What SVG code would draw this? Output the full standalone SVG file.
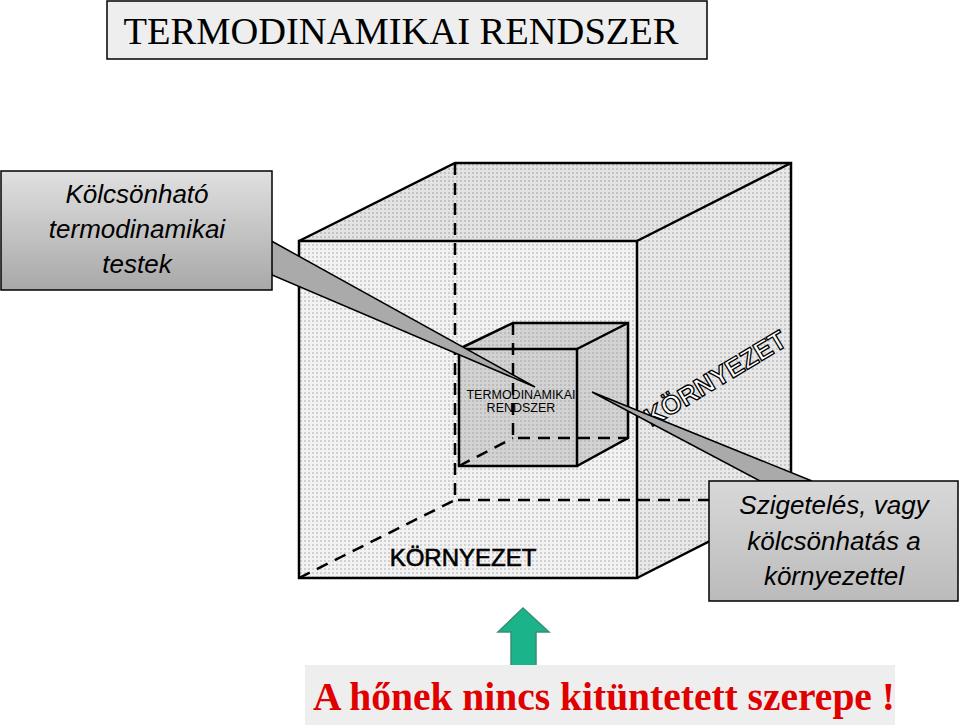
<svg xmlns="http://www.w3.org/2000/svg" width="960" height="725" viewBox="0 0 960 725">
<defs>
<pattern id="dots" width="4" height="4" patternUnits="userSpaceOnUse"><rect width="4" height="4" fill="#f2f2f2"/><rect width="2" height="2" fill="#d0d0d0"/></pattern>
<linearGradient id="g1" x1="0" y1="0" x2="0" y2="1"><stop offset="0" stop-color="#e0e0e0"/><stop offset="1" stop-color="#a8a8a8"/></linearGradient>
<linearGradient id="g2" x1="0" y1="0" x2="0" y2="1"><stop offset="0" stop-color="#d8d8d8"/><stop offset="1" stop-color="#bbbbbb"/></linearGradient>
<style>
.e{fill:none;stroke:#000;stroke-width:2.5}
.d{fill:none;stroke:#000;stroke-width:2.5;stroke-dasharray:12 8}
.s{font-family:"Liberation Sans",Arial,sans-serif}
.t{font-family:"Liberation Serif","Times New Roman",serif}
</style>
</defs>
<rect width="960" height="725" fill="#fff"/>
<g id="title"><rect x="107" y="1" width="600" height="58" fill="#eeeeee" stroke="#000" stroke-width="1.5"/>
<text x="401" y="44" class="t" font-size="38.5" text-anchor="middle">TERMODINAMIKAI RENDSZER</text></g>
<g id="bigcube">
<polygon points="299,241 455,163 791,163 791,500 637,578 299,578" fill="url(#dots)"/>
<polygon points="299,241 455,163 791,163 637,241" fill="#000" opacity="0.06"/>
<polygon points="637,241 791,163 791,500 637,578" fill="#000" opacity="0.04"/>
<polyline class="d" points="455,163 455,500 791,500"/><line class="d" x1="299" y1="578" x2="455" y2="500"/>
<rect class="e" x="299" y="241" width="338" height="337"/>
<polyline class="e" points="299,241 455,163 791,163 791,500 637,578"/><line class="e" x1="637" y1="241" x2="791" y2="163"/>
<text x="463" y="566" class="s" font-size="24" text-anchor="middle" stroke="#000" stroke-width="0.6">KÖRNYEZET</text>
<text transform="translate(720,386) rotate(-31)" class="s" font-size="26" font-weight="bold" text-anchor="middle" fill="#fff" stroke="#000" stroke-width="1.3">KÖRNYEZET</text>
</g>
<g id="innercube">
<polygon points="459,349 513,323 628,323 628,438 577,466 459,466" fill="#999" opacity="0.35"/>
<polyline class="d" points="513,323 513,438 628,438"/><line class="d" x1="459" y1="466" x2="513" y2="438"/>
<rect class="e" x="459" y="349" width="118" height="117"/>
<polyline class="e" points="459,349 513,323 628,323 628,438 577,466"/><line class="e" x1="577" y1="349" x2="628" y2="323"/>
<text x="521" y="399" class="s" font-size="12.5" text-anchor="middle">TERMODINAMIKAI</text>
<text x="521" y="412" class="s" font-size="12.5" text-anchor="middle">RENDSZER</text>
</g>
<g id="connectors">
<polygon points="266,238 272,275 535,387" fill="#aaa" stroke="#000" stroke-width="1.5"/>
<polygon points="592,392 760,481 812,481" fill="#aaa" stroke="#000" stroke-width="1.5"/>
<polygon points="523,608 549,632 536,632 536,672 511,672 511,632 498,632" fill="#1ab38a" stroke="#3a8f78" stroke-width="1.5"/>
</g>
<g id="callout1"><rect x="1" y="171" width="271" height="119" fill="url(#g1)" stroke="#000" stroke-width="1.5"/>
<text class="s" font-size="26" font-style="italic" text-anchor="middle"><tspan x="137" y="203">Kölcsönható</tspan><tspan x="137" y="238">termodinamikai</tspan><tspan x="137" y="273">testek</tspan></text></g>
<g id="callout2"><rect x="709" y="481" width="249" height="120" fill="url(#g2)" stroke="#000" stroke-width="1.5"/>
<text class="s" font-size="26" font-style="italic" text-anchor="middle"><tspan x="834" y="514">Szigetelés, vagy</tspan><tspan x="834" y="550">kölcsönhatás a</tspan><tspan x="834" y="585">környezettel</tspan></text></g>
<g id="note"><rect x="305" y="665" width="590" height="60" fill="#eeeeee"/>
<text x="604" y="710" class="t" font-size="39.5" font-weight="bold" fill="#e00000" text-anchor="middle">A hőnek nincs kitüntetett szerepe !</text></g>
</svg>
